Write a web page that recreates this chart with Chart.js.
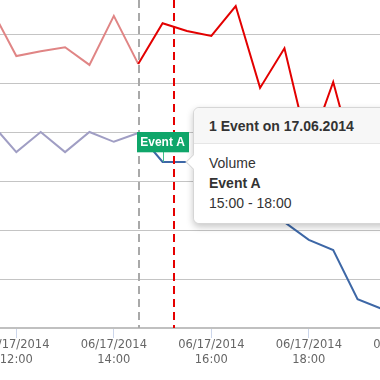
<!DOCTYPE html>
<html><head><meta charset="utf-8">
<script src="https://cdn.jsdelivr.net/npm/chart.js@4.4.1/dist/chart.umd.min.js"></script>
<style>
html,body{margin:0;padding:0;background:#fff;overflow:hidden;width:380px;height:380px}
#wrap{position:relative;width:380px;height:380px;overflow:hidden}
canvas{display:block}
#tip{position:absolute;left:193px;top:107px;width:230px;background:#fff;border:1px solid #d6d6d6;border-radius:6px;box-shadow:0 3px 7px rgba(0,0,0,0.22);font-family:"Liberation Sans",Arial,sans-serif;color:#333;font-size:14px}
#tip .hd{height:35px;line-height:36px;padding-left:15px;font-weight:bold;background:#f7f7f7;border-bottom:1px solid #e6e6e6;border-radius:6px 6px 0 0;position:relative;z-index:2}
#tip .bd{padding:9px 15px 10px 15px;line-height:20px;position:relative;z-index:2;background:#fff;border-radius:0 0 6px 6px}
#tip .arrow{position:absolute;left:-6px;top:48px;width:11px;height:11px;background:#fff;border-left:1px solid #d6d6d6;border-bottom:1px solid #d6d6d6;transform:rotate(45deg);z-index:1}
</style></head><body>
<div id="wrap"><canvas id="c" width="380" height="380"></canvas>
<div id="tip"><div class="arrow"></div><div class="hd" id="tipHead"></div><div class="bd" id="tipBody"></div></div>
</div>
<script>
// time of day in hours (17 June 2014)
const times = [11.5, 12, 12.5, 13, 13.5, 14, 14.5, 15, 15.5, 16, 16.5, 17, 17.5, 18, 18.5, 19, 19.5];
const priceValues = [64.9, 55.5, 56.5, 57.3, 53.7, 63.7, 53.9, 62.2, 60.6, 59.6, 65.7, 49.0, 57.1, 36.3, 50.2, 31.8, 38.4];
const volumeValues = [41.6, 35.9, 40.0, 35.9, 40.0, 38.0, 39.8, 33.9, 33.9, 30.2, 27.1, 25.1, 21.6, 18.0, 15.9, 5.9, 3.9];
const tickHours = [12, 14, 16, 18, 20];
const dateLabel = '06/17/2014';
const xRange = [11.665, 19.46];
const yRange = [0, 66.94];
const yGridValues = [0, 10, 20, 30, 40, 50, 60];
const zoneStart = 14.5;      // grey dashed marker
const nowMarker = 15.23;     // red dashed marker
const eventTime = 15;
const eventName = 'Event A';
const tooltipTime = 15.5;
const tooltipHeader = '1 Event on 17.06.2014';
const tooltipLines = ['Volume', 'Event A', '15:00 - 18:00'];

const red = '#e30000', redLight = '#e08585';
const blue = '#3d67a6', blueLight = '#a09ec4';

document.getElementById('tipHead').textContent = tooltipHeader;
const bd = document.getElementById('tipBody');
tooltipLines.forEach((t, i) => {
  const d = document.createElement('div');
  d.textContent = t;
  if (i === 1) d.style.fontWeight = 'bold';
  bd.appendChild(d);
});

const overlay = {
  id: 'overlay',
  afterDatasetsDraw(chart) {
    const {ctx, chartArea: a, scales: {x, y}} = chart;
    ctx.save();
    ctx.lineWidth = 2;
    ctx.setLineDash([8, 5]);
    ctx.strokeStyle = '#a9a9a9';
    let px = Math.round(x.getPixelForValue(zoneStart)) + 1;
    ctx.beginPath(); ctx.moveTo(px, a.top); ctx.lineTo(px, a.bottom); ctx.stroke();
    ctx.strokeStyle = '#e60000';
    px = Math.round(x.getPixelForValue(nowMarker));
    ctx.beginPath(); ctx.moveTo(px, a.top); ctx.lineTo(px, a.bottom); ctx.stroke();
    // flag
    ctx.setLineDash([]);
    const fx = x.getPixelForValue(eventTime);
    const fy = y.getPixelForValue(volumeValues[times.indexOf(eventTime)]);
    ctx.lineWidth = 1;
    ctx.strokeStyle = '#3fbf8a';
    ctx.beginPath(); ctx.moveTo(Math.round(fx) + 0.5, fy - 10); ctx.lineTo(Math.round(fx) + 0.5, fy); ctx.stroke();
    ctx.fillStyle = '#0fa66a';
    ctx.fillRect(Math.round(fx - 26), Math.round(fy - 30.3), 52, 20.3);
    ctx.fillStyle = '#fff';
    ctx.font = 'bold 12px "Liberation Sans", Arial, sans-serif';
    ctx.textAlign = 'center';
    ctx.textBaseline = 'middle';
    ctx.fillText(eventName, fx, fy - 19.5);
    ctx.restore();
  },
  afterRender(chart) {
    const {x, y} = chart.scales;
    const tx = x.getPixelForValue(tooltipTime);
    const ty = y.getPixelForValue(volumeValues[times.indexOf(tooltipTime)]);
    const tip = document.getElementById('tip');
    tip.style.left = Math.round(tx + 6) + 'px';
    tip.style.top = Math.round(ty - 55) + 'px';
  }
};

new Chart(document.getElementById('c'), {
  type: 'line',
  data: {
    datasets: [
      {
        label: 'Price',
        data: times.map((t, i) => ({x: t, y: priceValues[i]})),
        borderColor: red,
        borderWidth: 2,
        pointRadius: 0,
        tension: 0,
        segment: {borderColor: c => c.p0.parsed.x < zoneStart ? redLight : red}
      },
      {
        label: 'Volume',
        data: times.map((t, i) => ({x: t, y: volumeValues[i]})),
        borderColor: blue,
        borderWidth: 2,
        pointRadius: 0,
        tension: 0,
        segment: {borderColor: c => c.p0.parsed.x < zoneStart ? blueLight : blue}
      }
    ]
  },
  options: {
    responsive: false,
    animation: false,
    devicePixelRatio: 1,
    layout: {padding: 0},
    plugins: {legend: {display: false}, tooltip: {enabled: false}},
    scales: {
      x: {
        type: 'linear',
        min: xRange[0],
        max: xRange[1],
        bounds: 'data',
        afterBuildTicks: s => { s.ticks = tickHours.map(v => ({value: v})); },
        afterFit: s => { s.height = 52; s.paddingLeft = 0; s.paddingRight = 0; },
        grid: {drawOnChartArea: false, drawTicks: true, tickLength: 10, color: '#ccd6eb', lineWidth: 1},
        border: {display: true, color: '#c0c0c0', width: 2},
        ticks: {
          autoSkip: false, maxRotation: 0, minRotation: 0, padding: 0,
          color: '#666666',
          font: {family: '"DejaVu Sans", Verdana, sans-serif', size: 11.5, lineHeight: 1.3},
          callback: v => [dateLabel, String(v).padStart(2, '0') + ':00']
        }
      },
      y: {
        min: yRange[0],
        max: yRange[1],
        bounds: 'data',
        afterBuildTicks: s => { s.ticks = yGridValues.map(v => ({value: v})); },
        afterFit: s => { s.width = 0; s.paddingTop = 0; s.paddingBottom = 0; },
        ticks: {display: false},
        border: {display: false},
        grid: {color: '#c4c4c4', lineWidth: 1, drawTicks: false}
      }
    }
  },
  plugins: [overlay]
});
</script>
</body></html>
